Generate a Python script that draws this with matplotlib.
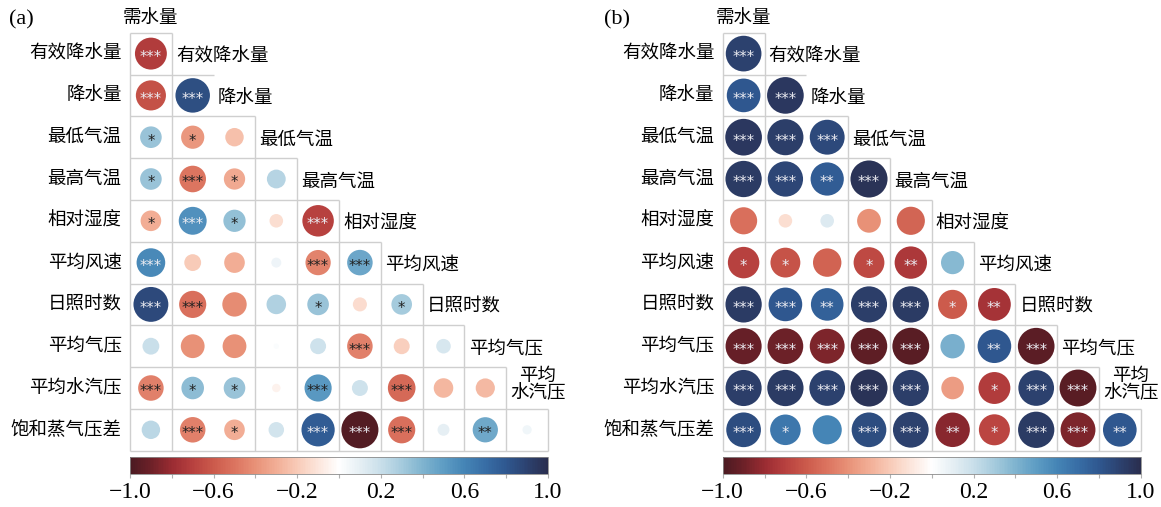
import numpy as np
import matplotlib
matplotlib.use("Agg")
import matplotlib.pyplot as plt
from matplotlib.colors import LinearSegmentedColormap, Normalize
from matplotlib.cm import ScalarMappable
from matplotlib.patches import Circle
from matplotlib.ticker import FixedLocator

# ---------------- data ----------------
col_names = ["需水量", "有效降水量", "降水量", "最低气温", "最高气温",
             "相对湿度", "平均风速", "日照时数", "平均气压", "平均水汽压"]
row_names = ["有效降水量", "降水量", "最低气温", "最高气温", "相对湿度",
             "平均风速", "日照时数", "平均气压", "平均水汽压", "饱和蒸气压差"]
diag_names = ["有效降水量", "降水量", "最低气温", "最高气温", "相对湿度",
              "平均风速", "日照时数", "平均气压", "平均\n水汽压"]

corr_a = [
    [-0.72],
    [-0.64, 0.84],
    [0.33, -0.38, -0.24],
    [0.33, -0.50, -0.32, 0.25],
    [-0.30, 0.55, 0.35, -0.13, -0.70],
    [0.58, -0.20, -0.30, 0.07, -0.45, 0.46],
    [0.86, -0.52, -0.42, 0.27, 0.33, -0.14, 0.30],
    [0.20, -0.40, -0.40, 0.02, 0.18, -0.46, -0.18, 0.15],
    [-0.46, 0.36, 0.33, -0.05, 0.52, 0.18, -0.54, -0.27, -0.26],
    [0.24, -0.46, -0.30, 0.17, 0.78, -0.97, -0.52, 0.10, 0.45, 0.06],
]
sig_a = [
    ["***"],
    ["***", "***"],
    ["*", "*", ""],
    ["*", "***", "*", ""],
    ["*", "***", "*", "", "***"],
    ["***", "", "", "", "***", "***"],
    ["***", "***", "", "", "*", "", "*"],
    ["", "", "", "", "", "***", "", ""],
    ["***", "*", "*", "", "***", "", "***", "", ""],
    ["", "***", "*", "", "***", "***", "***", "", "**", ""],
]

corr_b = [
    [0.90],
    [0.80, 0.95],
    [0.95, 0.92, 0.86],
    [0.93, 0.88, 0.78, 0.97],
    [-0.52, -0.13, 0.13, -0.40, -0.56],
    [-0.70, -0.63, -0.57, -0.67, -0.74, 0.38],
    [0.93, 0.80, 0.75, 0.92, 0.93, -0.60, -0.76],
    [-0.92, -0.90, -0.86, -0.94, -0.96, 0.42, 0.80, -0.95],
    [0.92, 0.93, 0.90, 0.97, 0.92, -0.36, -0.72, 0.90, -0.96],
    [0.85, 0.66, 0.60, 0.85, 0.90, -0.84, -0.68, 0.93, -0.86, 0.80],
]
sig_b = [
    ["***"],
    ["***", "***"],
    ["***", "***", "***"],
    ["***", "***", "**", "***"],
    ["", "", "", "", ""],
    ["*", "*", "", "*", "**", ""],
    ["***", "***", "**", "***", "***", "*", "**"],
    ["***", "***", "***", "***", "***", "", "**", "***"],
    ["***", "***", "***", "***", "***", "", "*", "***", "***"],
    ["***", "*", "", "***", "***", "**", "*", "***", "***", "**"],
]

cbar_ticks = [-1.0, -0.6, -0.2, 0.2, 0.6, 1.0]
cbar_minor = [-0.8, -0.4, 0.0, 0.4, 0.8]
cbar_labels = ["\u22121.0", "\u22120.6", "\u22120.2", "0.2", "0.6", "1.0"]

# ---------------- style ----------------
stops = ["#4b1a22", "#6e2128", "#9b2c32", "#b8413f", "#cc5b4c", "#dc7460",
         "#e89278", "#f2ae96", "#f8cbb8", "#fce6dc", "#ffffff", "#e6eff4",
         "#c9dfea", "#a6cbdd", "#80b4cf", "#5e9dc4", "#4585b6", "#386ea6",
         "#2f5890", "#2c4270", "#2a2e4f"]
cmap = LinearSegmentedColormap.from_list("corr", stops)
norm = Normalize(-1, 1)

CJK = ["Noto Sans CJK SC", "DejaVu Sans"]
SERIF = ["Liberation Serif", "DejaVu Serif"]
LABEL_FS = 13.3
GRID_C = "#cfcfcf"

W, H = 1161, 507
fig = plt.figure(figsize=(W / 100, H / 100), dpi=100)

CELL = 41.8
GRID_TOP = 32.7


def draw_panel(left_px, corr, sig, tag, tag_x):
    ax = fig.add_axes([left_px / W, (H - GRID_TOP - 10 * CELL) / H,
                       10 * CELL / W, 10 * CELL / H])
    ax.set_xlim(0, 10)
    ax.set_ylim(10, 0)
    ax.axis("off")

    # staircase grid
    kw = dict(color=GRID_C, lw=1.0, solid_capstyle="butt", zorder=1, clip_on=False)
    ax.plot([0, 0], [0, 10], **kw)
    ax.plot([0, 10], [10, 10], **kw)
    for i in range(10):
        ax.plot([0, i + 1], [i, i], **kw)
        if i != 1:
            ax.plot([i + 1, i + 1], [i, 10], **kw)

    for i, row in enumerate(corr):
        for j, r in enumerate(row):
            d = 0.9 * np.sqrt(abs(r))
            ax.add_patch(Circle((j + 0.5, i + 0.5), d / 2,
                                facecolor=cmap(norm(r)), edgecolor="none",
                                zorder=2))
            s = sig[i][j]
            if s:
                c = "#ececf2" if abs(r) >= 0.55 else "#222222"
                ax.text(j + 0.5, i + 0.5 + 0.2, s, ha="center",
                        va="baseline", fontsize=10.5, color=c,
                        family="DejaVu Sans", zorder=3)
        ax.text(-0.2, i + 0.5, row_names[i], ha="right", va="center",
                fontsize=LABEL_FS, family=CJK)
        if i < 8:
            ax.text(i + 1.1, i + 0.56, diag_names[i], ha="left", va="center",
                    fontsize=LABEL_FS, family=CJK)
        elif i == 8:
            ax.text(9.76, 8.42, diag_names[i], ha="center", va="center",
                    fontsize=LABEL_FS, family=CJK, linespacing=1.0,
                    multialignment="center")
    ax.text(0.5, -0.32, col_names[0], ha="center", va="center",
            fontsize=LABEL_FS, family=CJK)

    fig.text(tag_x / W, 1 - 20 / H, tag, ha="left", va="center",
             fontsize=16, family=SERIF)

    # colour bar
    cax = fig.add_axes([left_px / W, (H - 474) / H, 10 * CELL / W, 17 / H])
    cb = fig.colorbar(ScalarMappable(norm=norm, cmap=cmap), cax=cax,
                      orientation="horizontal")
    cb.set_ticks(cbar_ticks)
    cb.set_ticklabels(cbar_labels)
    cax.xaxis.set_minor_locator(FixedLocator(cbar_minor))
    cax.tick_params(which="both", length=3, width=0.8, color="#b0b0b0",
                    labelsize=17, pad=3)
    for lab in cax.get_xticklabels():
        lab.set_family(SERIF)
    cb.outline.set_edgecolor("#8a8a8a")
    cb.outline.set_linewidth(0.6)


draw_panel(130, corr_a, sig_a, "(a)", 9)
draw_panel(722.7, corr_b, sig_b, "(b)", 604)

fig.savefig("out.png", dpi=100)
